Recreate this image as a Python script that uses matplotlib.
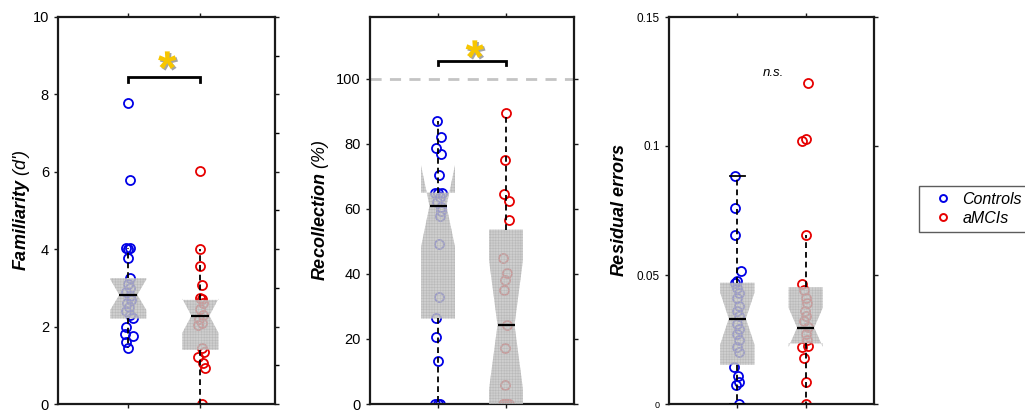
import matplotlib
matplotlib.use('Agg')
import matplotlib.pyplot as plt
import matplotlib.patheffects as pe
from matplotlib.lines import Line2D

plt.rcParams['font.family'] = ['Liberation Sans', 'DejaVu Sans']
plt.rcParams['mathtext.fontset'] = 'custom'
plt.rcParams['mathtext.rm'] = 'Liberation Sans'
plt.rcParams['mathtext.it'] = 'Liberation Sans:italic'
plt.rcParams['mathtext.bf'] = 'Liberation Sans:bold'
plt.rcParams['mathtext.bfit'] = 'Liberation Sans:italic:bold'
plt.rcParams['hatch.linewidth'] = 0.4

groups = ['Controls', 'aMCIs']
colors = ['#0000e6', '#e60000']

# ---------------- Familiarity (d') ----------------
fam_ctrl = [7.77, 5.79, 4.02, 4.02, 4.00, 3.76, 3.25, 3.10, 3.00, 2.90, 2.80, 2.70,
            2.60, 2.50, 2.40, 2.30, 2.21, 1.99, 1.81, 1.77, 1.61, 1.44]
fam_ctrl_jit = [0.00, 0.03, -0.03, 0.02, 0.00, -0.01, 0.02, 0.00, 0.03, -0.03, 0.02, 0.04,
                -0.02, 0.01, -0.03, 0.03, 0.07, -0.03, -0.05, 0.07, -0.03, 0.00]
fam_amci = [6.02, 4.00, 3.57, 3.08, 2.73, 2.71, 2.60, 2.45, 2.30, 2.20, 2.10, 2.05,
            1.45, 1.35, 1.22, 1.05, 0.92, 0.00]
fam_amci_jit = [0.00, 0.00, 0.00, 0.02, 0.00, 0.02, 0.03, 0.00, 0.04, -0.02, 0.02, -0.03,
                0.02, 0.05, -0.03, 0.04, 0.06, 0.02]
fam_q1 = [2.21, 1.40]
fam_med = [2.82, 2.28]
fam_q3 = [3.25, 2.69]
fam_whislo = [1.44, 0.00]
fam_whishi = [4.02, 4.00]
fam_cilo = [2.43, 1.84]
fam_cihi = [3.22, 2.72]

# ---------------- Recollection (%) ----------------
rec_ctrl = [86.9, 82.0, 78.7, 77.0, 70.5, 65.0, 65.0, 65.0, 63.5, 62.0, 60.5, 59.3,
            57.8, 49.3, 33.0, 26.3, 20.5, 13.3, 0.0, 0.0, 0.0]
rec_ctrl_jit = [-0.02, 0.05, -0.03, 0.05, 0.01, -0.05, 0.00, 0.06, 0.03, -0.02, 0.04, 0.05,
                0.03, 0.01, 0.02, -0.03, -0.03, 0.00, -0.04, 0.00, 0.03]
rec_amci = [89.5, 75.1, 64.7, 62.4, 56.7, 45.0, 40.3, 38.1, 35.2, 24.3, 17.1, 5.8,
            0.0, 0.0, 0.0, 0.0]
rec_amci_jit = [0.00, -0.01, -0.03, 0.05, 0.05, -0.04, 0.02, -0.01, -0.03, 0.02, -0.02, -0.01,
                -0.05, -0.02, 0.02, 0.05]
rec_q1 = [26.3, 0.0]
rec_med = [60.9, 24.3]
rec_q3 = [65.0, 53.6]
rec_whislo = [0.0, 0.0]
rec_whishi = [86.9, 89.5]
rec_cilo = [48.3, 4.5]
rec_cihi = [73.4, 44.3]

# ---------------- Residual errors ----------------
res_ctrl = [0.0884, 0.0761, 0.0654, 0.0515, 0.0476, 0.0470, 0.0450, 0.0430, 0.0410, 0.0380,
            0.0360, 0.0340, 0.0310, 0.0290, 0.0270, 0.0250, 0.0220, 0.0200, 0.0145, 0.0107,
            0.0087, 0.0074, 0.0]
res_ctrl_jit = [-0.03, -0.04, -0.03, 0.05, 0.00, -0.03, 0.00, 0.03, 0.00, 0.02,
                -0.01, 0.03, 0.00, 0.02, -0.01, 0.02, 0.00, 0.03, -0.05, 0.01,
                0.02, -0.02, 0.02]
res_amci = [0.1245, 0.1028, 0.1019, 0.0655, 0.0464, 0.0440, 0.0410, 0.0390, 0.0360, 0.0340,
            0.0320, 0.0300, 0.0270, 0.0250, 0.0225, 0.0222, 0.0180, 0.0084, 0.0]
res_amci_jit = [0.03, 0.01, -0.05, 0.00, -0.06, -0.02, 0.00, 0.02, -0.01, 0.01,
                -0.02, 0.03, 0.00, 0.02, 0.03, -0.06, -0.02, 0.01, 0.01]
res_q1 = [0.0152, 0.0235]
res_med = [0.0331, 0.0296]
res_q3 = [0.0470, 0.0452]
res_whislo = [0.0, 0.0]
res_whishi = [0.0884, 0.0655]
res_cilo = [0.0231, 0.0221]
res_cihi = [0.0431, 0.0373]

yticks_fam = [0, 2, 4, 6, 8, 10]
yticks_rec = [0, 20, 40, 60, 80, 100]
yticks_res = [0, 0.05, 0.1, 0.15]
ytick_labels_res = ['0', '0.05', '0.1', '0.15']

W, H = 1025, 411
fig = plt.figure(figsize=(W / 100, H / 100), dpi=100)


def fx(px):
    return px / W


def fy(py):
    return 1 - py / H


ax1 = fig.add_axes([fx(58), fy(404), fx(275) - fx(58), fy(17) - fy(404)])
ax2 = fig.add_axes([fx(370), fy(404), fx(574) - fx(370), fy(17) - fy(404)])
ax3 = fig.add_axes([fx(669), fy(404), fx(874) - fx(669), fy(17) - fy(404)])


def draw_panel(ax, data, jits, q1, med, q3, wlo, whi, cilo, cihi, capw):
    for i, (vals, jit) in enumerate(zip(data, jits)):
        xs = [i + 1 + j for j in jit]
        ax.plot(xs, vals, linestyle='none', marker='o', markersize=6.5,
                markerfacecolor='none', markeredgecolor=colors[i],
                markeredgewidth=1.3, zorder=2)
    stats = []
    for i in range(2):
        stats.append(dict(q1=q1[i], med=med[i], q3=q3[i], whislo=wlo[i], whishi=whi[i],
                          cilo=cilo[i], cihi=cihi[i], fliers=[]))
    bp = ax.bxp(stats, positions=[1, 2], widths=0.5, patch_artist=True,
                shownotches=True, showfliers=False, manage_ticks=False,
                capwidths=capw,
                boxprops=dict(facecolor='#c2c2c2', edgecolor='#b4b4b4', linewidth=0,
                              alpha=0.8, hatch='++++++'),
                whiskerprops=dict(color='black', linestyle=(0, (3.2, 2.2)), linewidth=1.3),
                capprops=dict(color='black', linewidth=1.3),
                medianprops=dict(color='black', linewidth=1.6))
    for b in bp['boxes']:
        b.set_zorder(3)
    for w in bp['whiskers']:
        w.set_zorder(4)
    for c in bp['caps']:
        c.set_zorder(4)
    for m in bp['medians']:
        m.set_zorder(5)


draw_panel(ax1, [fam_ctrl, fam_amci], [fam_ctrl_jit, fam_amci_jit],
           fam_q1, fam_med, fam_q3, fam_whislo, fam_whishi, fam_cilo, fam_cihi, [0, 0])
draw_panel(ax2, [rec_ctrl, rec_amci], [rec_ctrl_jit, rec_amci_jit],
           rec_q1, rec_med, rec_q3, rec_whislo, rec_whishi, rec_cilo, rec_cihi, [0, 0])
draw_panel(ax3, [res_ctrl, res_amci], [res_ctrl_jit, res_amci_jit],
           res_q1, res_med, res_q3, res_whislo, res_whishi, res_cilo, res_cihi, [0.22, 0])

ax1.set_xlim(0.025, 3.035)
ax2.set_xlim(0.0, 3.0)
ax3.set_xlim(0.0, 3.0)
ax1.set_ylim(0, 10)
ax2.set_ylim(0, 119)
ax3.set_ylim(0, 0.15)

for ax in (ax1, ax2, ax3):
    ax.set_xticks([1, 2])
    ax.set_xticklabels([])
    for s in ax.spines.values():
        s.set_linewidth(1.6)
        s.set_color('#1a1a1a')
    ax.tick_params(axis='both', which='major', direction='out', length=3, width=1,
                   top=True, right=True, bottom=True, left=True, colors='#1a1a1a',
                   labelcolor='black')
    ax.set_facecolor('white')

ax1.set_yticks(yticks_fam)
ax1.set_yticks([1, 3, 5, 7, 9], minor=True)
ax1.tick_params(axis='y', which='minor', left=False, right=True, direction='out',
                length=3, width=1)
ax1.tick_params(axis='y', labelsize=10.5)
ax2.set_yticks(yticks_rec)
ax2.tick_params(axis='y', labelsize=10.5)
ax3.set_yticks(yticks_res)
ax3.set_yticklabels(ytick_labels_res)
ax3.tick_params(axis='y', labelsize=8.5)
ax3.get_yticklabels()[0].set_fontsize(6.5)

# reference line at 100 %
ax2.axhline(100, color='#c4c4c4', linestyle=(0, (4, 3)), linewidth=2, zorder=1)

# y labels
ax1.set_ylabel(r"$\mathbfit{Familiarity}$ (d')", fontsize=13, fontstyle='italic')
ax2.set_ylabel(r"$\mathbfit{Recollection}$ (%)", fontsize=13, fontstyle='italic')
ax3.set_ylabel(r"$\mathbfit{Residual\ errors}$", fontsize=13)
ax1.yaxis.set_label_coords(-0.12, 0.5)
ax2.yaxis.set_label_coords(-0.19, 0.5)
ax3.yaxis.set_label_coords(-0.2, 0.5)

# significance markers
shadow = [pe.withSimplePatchShadow(offset=(1.2, -1.2), shadow_rgbFace='#9a9a9a', alpha=0.9)]
ax1.plot([1, 1, 2, 2], [8.33, 8.45, 8.45, 8.33], color='black', linewidth=2,
         solid_joinstyle='miter', zorder=5)
ax2.plot([1, 1, 2, 2], [104.1, 105.6, 105.6, 104.1], color='black', linewidth=2,
         solid_joinstyle='miter', zorder=5)
for ax, ystar in ((ax1, 8.9), (ax2, 109.3)):
    ax.annotate('*', xy=(1.54, ystar), xytext=(0, -17.5), textcoords='offset points',
                ha='center', va='baseline', fontsize=34, fontweight='bold',
                color='#f7c600', path_effects=shadow, zorder=6)
ax3.text(1.53, 0.1284, 'n.s.', fontsize=9.5, fontstyle='italic', ha='center',
         va='center')

# legend
handles = [Line2D([], [], linestyle='none', marker='o', markersize=5,
                  markerfacecolor='none', markeredgecolor=c, markeredgewidth=1.4)
           for c in colors]
leg = fig.legend(handles, groups, loc='upper left', bbox_to_anchor=(fx(919), fy(186)),
                 borderaxespad=0, frameon=True, fancybox=False, edgecolor='#333333',
                 prop=dict(style='italic', size=11.5), handlelength=2.3,
                 handletextpad=0.05, labelspacing=0.25, borderpad=0.38)
leg.get_frame().set_linewidth(1.0)

fig.savefig('out.png', dpi=100)
